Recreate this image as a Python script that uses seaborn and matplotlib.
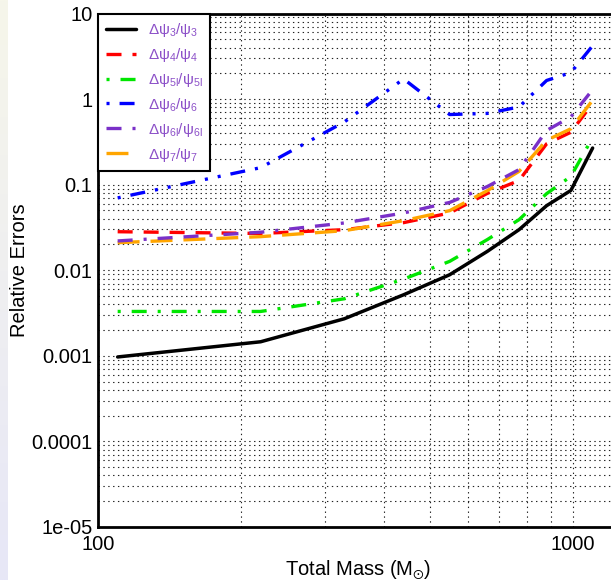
import numpy as np
import matplotlib
matplotlib.use('Agg')
import matplotlib.pyplot as plt
import seaborn as sns
from matplotlib.colors import LinearSegmentedColormap
from matplotlib.ticker import FixedLocator, FixedFormatter, LogLocator, NullFormatter

# ---------------- data ----------------
mass = [110, 220, 330, 440, 550, 660, 770, 880, 990, 1100]
err_psi3 = [0.00097, 0.00146, 0.00271, 0.00517, 0.00886, 0.0166, 0.0298, 0.0568, 0.0857, 0.268]
err_psi4 = [0.0282, 0.0269, 0.0298, 0.036, 0.0467, 0.079, 0.112, 0.30, 0.41, 0.89]
err_psi5l = [0.0033, 0.0033, 0.00464, 0.00789, 0.0127, 0.0228, 0.039, 0.0785, 0.125, 0.355]
err_psi6 = [0.07, 0.158, 0.54, 1.72, 0.66, 0.68, 0.81, 1.65, 2.04, 4.2]
err_psi6l = [0.022, 0.0278, 0.0357, 0.0467, 0.062, 0.095, 0.15, 0.43, 0.62, 1.29]
err_psi7 = [0.021, 0.0247, 0.029, 0.038, 0.0497, 0.085, 0.143, 0.33, 0.45, 0.97]

labels = [r'Δψ$_{3}$/ψ$_{3}$', r'Δψ$_{4}$/ψ$_{4}$', r'Δψ$_{5l}$/ψ$_{5l}$',
          r'Δψ$_{6}$/ψ$_{6}$', r'Δψ$_{6l}$/ψ$_{6l}$', r'Δψ$_{7}$/ψ$_{7}$']
y_ticks = [10, 1, 0.1, 0.01, 0.001, 0.0001, 1e-05]
y_tick_labels = ['10', '1', '0.1', '0.01', '0.001', '0.0001', '1e-05']
x_ticks = [100, 1000]
x_tick_labels = ['100', '1000']

# ---------------- style ----------------
sns.set_theme(style='white')
plt.rcParams['font.family'] = ['Liberation Sans', 'DejaVu Sans']
plt.rcParams['mathtext.fontset'] = 'custom'
plt.rcParams['mathtext.rm'] = 'Liberation Sans'
plt.rcParams['mathtext.it'] = 'Liberation Sans:italic'
plt.rcParams['mathtext.default'] = 'regular'
plt.rcParams['lines.scale_dashes'] = False

fig = plt.figure(figsize=(6.11, 5.8), dpi=100)

# left gradient strip
bg = fig.add_axes([0, 0, 8 / 611, 1])
grad = np.linspace(0, 1, 256)[:, None]
cmap = LinearSegmentedColormap.from_list('strip', ['#f6f6ea', '#e7e7f7'])
bg.imshow(grad, aspect='auto', cmap=cmap, extent=[0, 1, 0, 1])
bg.axis('off')

ax = fig.add_axes([98 / 611, 53 / 580, 521 / 611, 513.5 / 580])

series = [
    (err_psi3, '#000000', 2.5, '-'),
    (err_psi4, '#ff0000', 2.4, (0, (10.8, 7.9))),
    (err_psi5l, '#00e600', 2.4, (0, (2.2, 7.9, 10.8, 7.9))),
    (err_psi6, '#0000ff', 2.4, (0, (2.2, 7.2, 10.8, 7.2, 2.2, 7.2))),
    (err_psi6l, '#7a30c8', 2.4, (0, (10.8, 7.9, 2.2, 7.9, 10.8, 7.9))),
    (err_psi7, '#ffa500', 2.4, (0, (15.8, 7.9))),
]
draw_order = [0, 1, 2, 3, 5, 4]
handles = {}
for i in draw_order:
    vals, c, lw, ls = series[i]
    sns.lineplot(x=mass, y=vals, ax=ax, color=c, linewidth=lw, linestyle=ls,
                 errorbar=None, legend=False)
    handles[i] = ax.lines[-1]
    handles[i].set_label(labels[i])

ax.set_xscale('log')
ax.set_yscale('log')
ax.set_xlim(100, 1250)
ax.set_ylim(1e-5, 10)

ax.xaxis.set_major_locator(FixedLocator(x_ticks))
ax.xaxis.set_major_formatter(FixedFormatter(x_tick_labels))
ax.xaxis.set_minor_locator(LogLocator(base=10, subs=np.arange(2, 10)))
ax.xaxis.set_minor_formatter(NullFormatter())
ax.yaxis.set_major_locator(FixedLocator(y_ticks))
ax.yaxis.set_major_formatter(FixedFormatter(y_tick_labels))
ax.yaxis.set_minor_locator(LogLocator(base=10, subs=np.arange(2, 10), numticks=20))
ax.yaxis.set_minor_formatter(NullFormatter())

ax.grid(True, which='both', color='#222222', linestyle=(0, (1, 2.5)), linewidth=0.8)
ax.tick_params(which='both', length=0, labelsize=14.5, colors='black')
ax.tick_params(axis='y', pad=4)
ax.tick_params(axis='x', pad=6)

for s in ['left', 'bottom', 'top']:
    ax.spines[s].set_color('black')
    ax.spines[s].set_linewidth(2.0)
ax.spines['right'].set_visible(False)

ax.set_ylabel('Relative Errors', fontsize=14.5, color='black')
ax.yaxis.set_label_coords(-0.133, 0.5)
ax.set_xlabel(r'Total Mass (M$_{\odot}$)', fontsize=14.5, color='black', labelpad=3)

leg = ax.legend(handles=[handles[i] for i in range(6)], loc='upper left',
                bbox_to_anchor=(0, 1), borderaxespad=0, frameon=True, fancybox=False,
                edgecolor='black', framealpha=1, fontsize=11, handlelength=1.96,
                handletextpad=0.78, labelspacing=0.45, borderpad=0.5,
                labelcolor='#8c50c8')
leg.get_frame().set_linewidth(1.5)

fig.savefig('out.png', dpi=100)
